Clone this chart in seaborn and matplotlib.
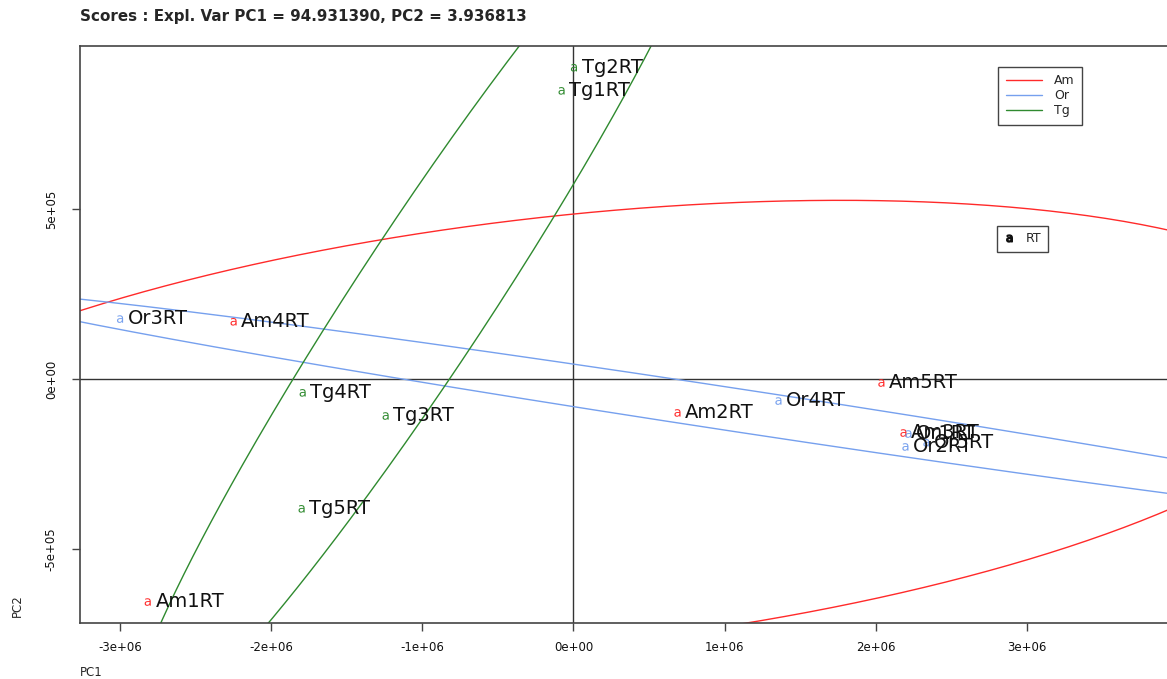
import numpy as np
import pandas as pd
import matplotlib
matplotlib.use("Agg")
import matplotlib.pyplot as plt
from matplotlib.lines import Line2D
import seaborn as sns

# Sample scores on the first two principal components
samples = ["Am1RT", "Am2RT", "Am3RT", "Am4RT", "Am5RT",
           "Or1RT", "Or2RT", "Or3RT", "Or4RT", "Or5RT",
           "Tg1RT", "Tg2RT", "Tg3RT", "Tg4RT", "Tg5RT"]
groups = ["Am"] * 5 + ["Or"] * 5 + ["Tg"] * 5
pc1 = [-2.817e6, 0.688e6, 2.183e6, -2.249e6, 2.037e6,
       2.216e6, 2.196e6, -3.000e6, 1.356e6, 2.335e6,
       -0.079e6, 0.003e6, -1.243e6, -1.792e6, -1.799e6]
pc2 = [-0.656e6, -0.100e6, -0.159e6, 0.168e6, -0.012e6,
       -0.162e6, -0.200e6, 0.176e6, -0.065e6, -0.188e6,
       0.847e6, 0.915e6, -0.109e6, -0.041e6, -0.382e6]

group_names = ["Am", "Or", "Tg"]
group_colors = ["#ff2a2a", "#76a0ee", "#2f8a2f"]
x_ticks = [-3e6, -2e6, -1e6, 0, 1e6, 2e6, 3e6]
x_tick_labels = ["-3e+06", "-2e+06", "-1e+06", "0e+00", "1e+06", "2e+06", "3e+06"]
y_ticks = [-5e5, 0, 5e5]
y_tick_labels = ["-5e+05", "0e+00", "5e+05"]
title = "Scores : Expl. Var PC1 = 94.931390, PC2 = 3.936813"

ELLIPSE_SCALE = 2.2

df = pd.DataFrame({"sample": samples, "group": groups, "PC1": pc1, "PC2": pc2})
palette = dict(zip(group_names, group_colors))

sns.set_theme(style="white")
plt.rcParams["font.family"] = ["DejaVu Sans"]

fig = plt.figure(figsize=(11.67, 6.79), dpi=100)
W, H = 1167, 679
ax = fig.add_axes([80 / W, (H - 623) / H, (1169 - 80) / W, (623 - 46) / H])

ax.set_xlim(-3.265e6, 3.94e6)
ax.set_ylim(-0.7176e6, 0.979e6)

# Reference axes through the origin
ax.axhline(0, color="#333333", lw=1.0, zorder=1)
ax.axvline(0, color="#333333", lw=1.0, zorder=1)

# Group ellipses from each group's covariance
t = np.linspace(0, 2 * np.pi, 400)
for g, col in zip(group_names, group_colors):
    sub = df[df["group"] == g]
    mx, my = sub["PC1"].mean(), sub["PC2"].mean()
    cov = np.cov(sub["PC1"], sub["PC2"])
    sx, sy = np.sqrt(cov[0, 0]), np.sqrt(cov[1, 1])
    rho = cov[0, 1] / (sx * sy)
    ex = mx + ELLIPSE_SCALE * sx * np.cos(t)
    ey = my + ELLIPSE_SCALE * sy * (rho * np.cos(t) + np.sqrt(1 - rho ** 2) * np.sin(t))
    ax.plot(ex, ey, color=col, lw=1.0, zorder=2)

# Points drawn as letter symbols
sns.scatterplot(data=df, x="PC1", y="PC2", hue="group", palette=palette,
                marker=r"$\mathsf{a}$", s=30, linewidth=0, legend=False, ax=ax, zorder=3)

for _, r in df.iterrows():
    ax.annotate(r["sample"], (r["PC1"], r["PC2"]), xytext=(5.5, 0.5),
                textcoords="offset points", va="center", ha="left",
                fontsize=14, color="#111111", zorder=4)

# Frame and ticks
for side in ["left", "bottom", "top"]:
    ax.spines[side].set_visible(True)
    ax.spines[side].set_color("#444444")
    ax.spines[side].set_linewidth(1.2)
ax.spines["right"].set_visible(False)
ax.set_xticks(x_ticks)
ax.set_xticklabels(x_tick_labels, fontsize=8.5)
ax.set_yticks(y_ticks)
ax.set_yticklabels(y_tick_labels, fontsize=8.5, rotation=90, va="center")
ax.tick_params(axis="both", direction="out", length=6, width=1, color="#444444",
               bottom=True, left=True, labelcolor="#111111")
ax.tick_params(axis="x", pad=7)
ax.tick_params(axis="y", pad=10)
ax.set_xlabel("")
ax.set_ylabel("")
ax.grid(False)

fig.text(80 / W, 1 - 17 / H, title, fontsize=10.9, fontweight="bold", va="center", ha="left")
fig.text(80 / W, 1 - 673 / H, "PC1", fontsize=8.5, va="center", ha="left")
fig.text(17 / W, 1 - 606 / H, "PC2", fontsize=8.5, va="center", ha="center", rotation=90)

# Group legend
handles = [Line2D([0], [0], color=c, lw=1.0) for c in group_colors]
leg1 = ax.legend(handles, group_names, loc="upper left", bbox_to_anchor=(0.843, 0.964),
                 fontsize=9, frameon=True, fancybox=False, edgecolor="#444444",
                 framealpha=1, handlelength=2.9, handletextpad=1.0, labelspacing=0.15,
                 borderpad=0.6, borderaxespad=0)
leg1.get_frame().set_linewidth(1.0)
ax.add_artist(leg1)

# Sample type legend
h2 = [Line2D([0], [0], marker=r"$\mathsf{a}$", color="#111111", linestyle="none", markersize=5)]
leg2 = ax.legend(h2, ["RT"], loc="upper left", bbox_to_anchor=(0.842, 0.688),
                 fontsize=9, frameon=True, fancybox=False, edgecolor="#444444",
                 framealpha=1, handlelength=1.0, handletextpad=0.8,
                 borderpad=0.5, borderaxespad=0)
leg2.get_frame().set_linewidth(1.0)

fig.savefig("out.png", dpi=100)
